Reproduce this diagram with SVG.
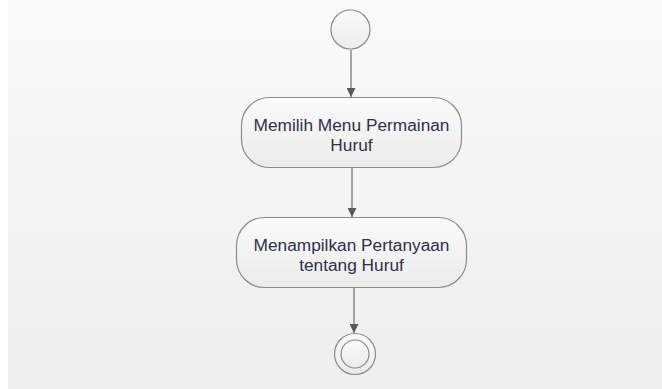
<svg xmlns="http://www.w3.org/2000/svg" width="662" height="389" viewBox="0 0 662 389">
  <defs>
    <linearGradient id="bg" x1="0" y1="0" x2="0" y2="1">
      <stop offset="0" stop-color="#fafafa"/>
      <stop offset="1" stop-color="#eeeeee"/>
    </linearGradient>
    <linearGradient id="nodeFill" x1="0" y1="0" x2="0" y2="1">
      <stop offset="0" stop-color="#fbfbfb"/>
      <stop offset="1" stop-color="#ebebeb"/>
    </linearGradient>
    <marker id="arrow" viewBox="0 0 10 10" refX="10" refY="5" markerWidth="9" markerHeight="9" markerUnits="userSpaceOnUse" orient="auto">
      <path d="M0,0 L10,5 L0,10 z" fill="#5a5a5a"/>
    </marker>
  </defs>
  <style>
    .node { fill: url(#nodeFill); stroke: #8a8a8a; stroke-width: 1.2; }
    .edge { stroke: #6e6e6e; stroke-width: 1.2; fill: none; marker-end: url(#arrow); }
    .label { font-family: "Liberation Sans", Arial, sans-serif; font-size: 17.3px; fill: #30304a; text-anchor: middle; }
  </style>

  <rect x="0" y="0" width="662" height="389" fill="#ffffff"/>
  <rect x="8" y="0" width="654" height="389" fill="url(#bg)"/>

  <g id="connectors">
    <line class="edge" x1="351" y1="50" x2="351" y2="97"/>
    <line class="edge" x1="352" y1="167" x2="352" y2="217"/>
    <line class="edge" x1="354" y1="288" x2="354" y2="333"/>
  </g>

  <g id="start">
    <circle class="node" cx="350.5" cy="29.5" r="19.5"/>
  </g>

  <g id="memilih-menu">
    <rect class="node" x="241.5" y="97.5" width="220" height="70" rx="28" ry="28"/>
    <text class="label" x="351.5" y="131">Memilih Menu Permainan</text>
    <text class="label" x="351.5" y="151">Huruf</text>
  </g>

  <g id="menampilkan-pertanyaan">
    <rect class="node" x="236.5" y="217.5" width="230" height="70" rx="28" ry="28"/>
    <text class="label" x="351.5" y="251">Menampilkan Pertanyaan</text>
    <text class="label" x="351.5" y="271">tentang Huruf</text>
  </g>

  <g id="end">
    <circle class="node" cx="355" cy="354" r="20.5"/>
    <circle class="node" cx="355" cy="354" r="14"/>
  </g>
</svg>
